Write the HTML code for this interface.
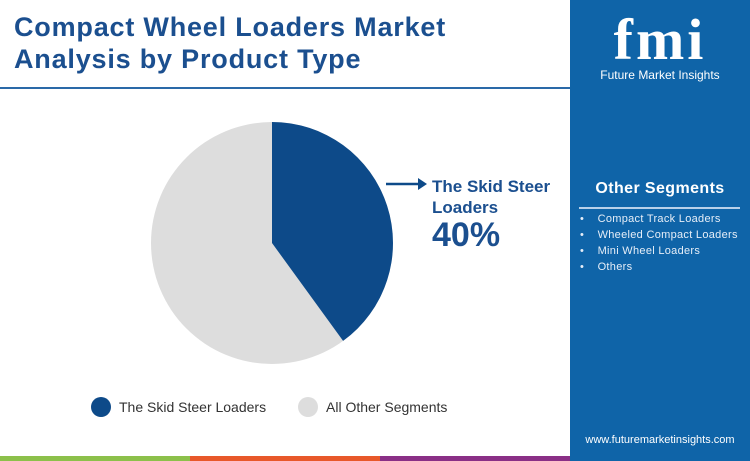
<!DOCTYPE html>
<html><head><meta charset="utf-8"><style>
*{margin:0;padding:0;box-sizing:border-box}
body{width:750px;height:461px;overflow:hidden;background:#fff;font-family:"Liberation Sans",sans-serif;position:relative}
.t{position:absolute;left:14px;top:11px;font-size:27px;font-weight:bold;color:#1b4f8f;line-height:32px;letter-spacing:0.8px}
.rp{position:absolute;left:570px;top:0;width:180px;height:461px;background:#0f64a8}
.ab{position:absolute}
</style></head><body>
<div class="t">Compact Wheel Loaders Market<br>Analysis by Product Type</div>
<div class="ab" style="left:0;top:87px;width:570px;height:2px;background:#2a69a8"></div>
<svg class="ab" style="left:0;top:0" width="570" height="461">
<circle cx="272" cy="243" r="121" fill="#dddddd"/>
<path d="M272 243 L272 122 A121 121 0 0 1 343.1 340.9 Z" fill="#0d4a89"/>
<line x1="386" y1="184" x2="418" y2="184" stroke="#0d4a89" stroke-width="2.5"/>
<polygon points="418,178 427,184 418,190" fill="#0d4a89"/>
<circle cx="101" cy="407" r="10" fill="#0d4a89"/>
<circle cx="308" cy="407" r="10" fill="#dddddd"/>
</svg>
<div class="ab" style="left:432px;top:176px;font-size:17px;font-weight:bold;color:#1b4f8f;line-height:21px">The Skid Steer<br>Loaders</div>
<div class="ab" style="left:432px;top:216px;font-size:34px;font-weight:bold;color:#1b4f8f">40%</div>
<div class="ab" style="left:119px;top:399px;font-size:14px;color:#333">The Skid Steer Loaders</div>
<div class="ab" style="left:326px;top:399px;font-size:14px;color:#333">All Other Segments</div>
<div class="rp">
<div class="ab" style="left:0;top:6px;width:180px;text-align:center;font-size:58px;font-weight:bold;color:#fff;font-family:'Liberation Serif',serif;letter-spacing:3px">fmi</div>
<div class="ab" style="left:0;top:68px;width:180px;text-align:center;font-size:12px;color:#fff">Future Market Insights</div>
<div class="ab" style="left:0;top:180px;width:180px;text-align:center;font-size:16px;font-weight:bold;color:#fff;letter-spacing:0.4px">Other Segments</div>
<div class="ab" style="left:9px;top:207px;width:161px;height:1.5px;background:#b8d0ea"></div>
<div class="ab" style="left:10px;top:211px;font-size:11px;color:#e6eef8;line-height:16px;letter-spacing:0.3px">•&nbsp;&nbsp;&nbsp;&nbsp;Compact Track Loaders<br>•&nbsp;&nbsp;&nbsp;&nbsp;Wheeled Compact Loaders<br>•&nbsp;&nbsp;&nbsp;&nbsp;Mini Wheel Loaders<br>•&nbsp;&nbsp;&nbsp;&nbsp;Others</div>
<div class="ab" style="left:0;top:434px;width:180px;text-align:center;font-size:11px;color:#fff">www.futuremarketinsights.com</div>
</div>
<div class="ab" style="left:0;top:456px;width:190px;height:5px;background:#8cc04a"></div>
<div class="ab" style="left:190px;top:456px;width:190px;height:5px;background:#e8582a"></div>
<div class="ab" style="left:380px;top:456px;width:190px;height:5px;background:#8a2f86"></div>
</body></html>
